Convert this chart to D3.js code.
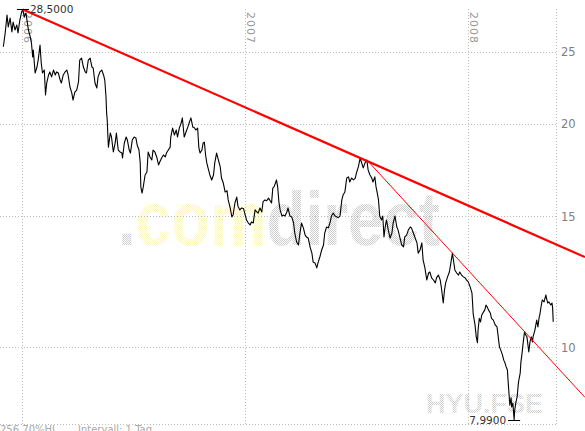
<!DOCTYPE html>
<html><head><meta charset="utf-8">
<script src="https://cdn.jsdelivr.net/npm/d3@7"></script>
<style>html,body{margin:0;padding:0;background:#fff;overflow:hidden}</style>
</head><body>
<svg id="c" width="585" height="431"></svg>
<script>
// ---- data ----
const startDate = "2006-01-01";           // day offsets are counted from this date
const dayOffsets = [-31,-28,-25,-23,-20,-17,-15,-12,-9,-7,-4,-1,1,3,6,10,13,15,17,18,21,24,26,29,31,33,36,38,40,43,45,48,51,54,56,59,62,64,67,70,73,75,78,81,83,86,89,92,94,97,100,103,105,108,111,114,116,119,122,124,127,130,133,135,137,138,139,140,141,144,146,149,152,154,157,160,163,164,167,170,172,175,177,180,183,186,188,191,193,194,196,198,201,204,206,209,212,214,217,220,223,225,228,231,234,236,239,242,243,246,249,252,254,257,260,262,265,268,271,273,276,279,282,284,287,289,291,294,296,298,300,302,304,307,310,313,315,318,321,324,326,329,332,335,337,340,343,345,348,351,353,356,359,362,364,367,370,373,375,378,381,384,386,389,392,394,397,400,403,405,408,410,412,415,416,418,420,422,425,427,430,433,435,438,441,444,446,449,452,454,457,460,463,465,468,471,474,476,479,482,484,487,490,493,495,498,501,504,506,509,512,515,517,520,523,525,528,531,534,536,539,542,545,547,550,553,555,558,561,564,566,569,572,574,577,579,581,583,585,588,590,592,594,596,599,602,605,607,610,613,615,617,621,624,626,629,632,635,637,640,643,646,648,651,654,656,659,662,665,667,670,673,676,678,681,684,686,689,691,693,696,699,701,704,708,711,714,716,719,722,725,727,730,733,736,737,738,741,743,745,746,748,750,752,755,757,759,761,763,766,768,771,774,777,779,781,783,786,788,790,792,794,795,797,798,800,801,803,805,806,808,810,812,815,816,818,820,822,824,826,827,829,831,833,835,836,839,842,844,846,847,849,851,854,857,858,860,862,865,867,868,869];
const prices = [25.39,26.49,28.01,26.99,27.75,26.58,27.41,26.74,27.16,26.49,27.58,28.30,28.50,27.84,28.18,26.74,26.17,25.68,24.59,25.13,23.40,23.84,24.36,25.52,24.14,23.40,23.62,21.86,22.69,23.26,23.48,23.12,23.62,23.26,23.48,23.40,22.90,22.69,23.26,23.48,23.62,23.26,22.41,22.00,21.52,22.06,22.20,22.76,24.36,24.51,23.84,23.48,23.40,24.36,24.51,23.84,23.77,22.69,22.34,23.12,23.48,23.62,23.26,22.90,21.72,20.68,20.23,19.31,18.60,19.43,19.19,18.32,18.84,19.43,18.43,18.32,18.26,17.98,18.84,19.19,19.01,18.43,18.26,19.01,19.19,19.13,18.72,18.43,17.71,16.44,16.13,16.44,17.06,17.22,18.32,18.04,17.87,18.43,18.32,18.04,17.60,17.76,17.98,18.15,18.04,18.26,18.43,18.60,19.19,19.73,19.31,19.61,19.19,19.73,20.04,20.36,19.19,19.49,19.80,20.04,20.36,19.80,19.73,19.61,19.73,18.55,18.26,18.43,18.84,18.89,18.15,17.71,17.44,17.06,16.80,17.06,17.71,18.26,17.87,17.49,16.90,16.64,16.18,16.25,15.79,15.44,14.98,15.07,15.64,15.93,15.49,15.31,15.40,15.38,15.16,14.84,14.70,14.61,14.75,14.70,15.31,15.21,15.16,15.40,15.21,15.69,15.79,15.75,15.88,15.79,15.64,16.38,16.44,16.69,16.80,16.44,15.69,15.31,15.02,15.07,15.02,15.21,15.40,15.02,14.98,14.70,14.25,13.86,13.73,14.16,14.70,14.48,14.16,14.08,14.03,13.65,13.39,13.03,12.99,12.79,12.99,13.23,13.52,13.73,14.25,14.52,14.48,14.75,15.02,15.16,15.02,14.98,14.95,15.02,15.79,16.03,16.18,16.90,16.96,16.69,16.90,16.80,16.90,17.17,17.49,17.98,17.76,17.44,17.71,17.87,17.33,17.06,16.90,16.69,16.96,16.44,16.13,15.79,15.02,14.84,15.02,14.08,14.52,14.84,14.39,14.03,14.25,14.70,15.02,14.52,14.39,14.16,13.74,13.65,14.08,14.16,14.39,14.52,14.48,14.25,14.03,13.82,13.39,13.52,13.82,13.11,12.79,12.32,12.59,12.63,12.40,12.32,12.21,12.40,12.51,12.32,12.02,11.47,11.94,12.21,12.44,12.63,12.91,13.39,12.71,12.59,12.51,12.63,12.51,12.44,12.40,12.32,12.25,12.06,11.83,11.47,11.09,10.72,10.33,10.14,10.55,10.94,10.82,11.05,11.16,11.23,11.40,11.33,11.23,11.12,10.94,10.88,10.72,10.65,10.33,10.01,9.92,9.76,9.61,9.53,9.41,9.32,9.04,8.58,8.36,8.55,8.31,8.41,7.99,8.23,8.44,8.58,8.96,9.24,9.53,9.82,10.17,10.49,10.39,10.33,10.17,9.86,10.17,10.33,10.17,10.33,10.55,10.88,10.65,10.98,11.05,11.33,11.58,11.51,11.76,11.65,11.47,11.51,11.40,11.47,11.30,10.82];
const yearTicks = ["2006", "2007", "2008"];
const priceTicks = [10, 15, 20, 25];
const trendMain = [{day: 1, price: 28.50}, {day: 553, price: 17.98}];
const trendShort = [{day: 564, price: 17.87}, {day: 704, price: 13.39}];
const footerInfo = "256,70%HL";
const footerInterval = "Intervall: 1 Tag";
const logoParts = [{text: ".", tone: "gray"}, {text: "com", tone: "yellow"}, {text: "direct", tone: "gray"}];
const symbolName = "HYU.FSE";

// ---- drawing ----
const W = 585, H = 431;
const plot = {left: 0, right: 556, top: 9, bottom: 424};
const svg = d3.select("#c");
const base = d3.isoParse(startDate);
const dates = dayOffsets.map(d => d3.utcDay.offset(base, d));
const series = dates.map((d, i) => ({date: d, price: prices[i]}));

const x = d3.scaleUtc()
  .domain([d3.isoParse("2006-01-01"), d3.isoParse("2008-01-01")])
  .range([22.3, 468.3]);
const y = d3.scaleLog().domain([10, 25]).range([347.3, 51.7]);

const defs = svg.append("defs");
function dotPattern(id, color) {
  const p = defs.append("pattern").attr("id", id).attr("width", 2).attr("height", 2)
    .attr("patternUnits", "userSpaceOnUse");
  p.append("rect").attr("x", 0).attr("y", 0).attr("width", 1).attr("height", 1).attr("fill", color);
  p.append("rect").attr("x", 1).attr("y", 1).attr("width", 1).attr("height", 1).attr("fill", color);
}
dotPattern("dotGray", "#cdcdcd");
dotPattern("dotYellow", "#fdf3c8");

// watermark logo
const logo = svg.append("text")
  .attr("x", 118).attr("y", 245)
  .attr("textLength", 322).attr("lengthAdjust", "spacingAndGlyphs")
  .style("font-family", "'Liberation Sans', Arial, sans-serif")
  .style("font-weight", "bold").style("font-size", "76px");
logo.selectAll("tspan").data(logoParts).join("tspan")
  .attr("fill", d => d.tone === "yellow" ? "url(#dotYellow)" : "url(#dotGray)")
  .text(d => d.text);

svg.append("text")
  .attr("x", 426).attr("y", 413)
  .attr("textLength", 117).attr("lengthAdjust", "spacingAndGlyphs")
  .attr("fill", "url(#dotGray)")
  .style("font-family", "'Liberation Sans', Arial, sans-serif")
  .style("font-weight", "bold").style("font-size", "28px")
  .text(symbolName);

// grid
const grid = svg.append("g").attr("stroke", "#bdbdbd").attr("stroke-width", 1)
  .attr("stroke-dasharray", "1,2").attr("fill", "none");
priceTicks.forEach(v => {
  const yy = Math.round(y(v)) + 0.5;
  grid.append("line").attr("x1", plot.left).attr("x2", plot.right).attr("y1", yy).attr("y2", yy);
});
yearTicks.forEach(t => {
  const xx = Math.round(x(d3.isoParse(t + "-01-01"))) + 0.5;
  grid.append("line").attr("x1", xx).attr("x2", xx).attr("y1", plot.top).attr("y2", plot.bottom);
});
grid.append("line").attr("x1", plot.right + 0.5).attr("x2", plot.right + 0.5).attr("y1", plot.top).attr("y2", plot.bottom);
grid.append("line").attr("x1", plot.left).attr("x2", plot.right).attr("y1", plot.bottom + 0.5).attr("y2", plot.bottom + 0.5);

// year labels
svg.append("g").selectAll("text").data(yearTicks).join("text")
  .attr("transform", t => `translate(${Math.round(x(d3.isoParse(t + "-01-01"))) + 2},12) rotate(90)`)
  .attr("fill", "#999")
  .style("font-family", "'DejaVu Sans', sans-serif").style("font-size", "11px")
  .style("letter-spacing", "1px")
  .text(t => t);

// right price labels
svg.append("g").selectAll("text").data(priceTicks).join("text")
  .attr("x", 561).attr("y", v => y(v) + 4.5)
  .attr("fill", "#808080")
  .style("font-family", "'DejaVu Sans', sans-serif").style("font-size", "11.5px")
  .text(v => v);

// footer
const foot = svg.append("g").attr("fill", "#a8a8a8")
  .style("font-family", "'DejaVu Sans', sans-serif").style("font-size", "10px");
foot.append("text").attr("x", 0).attr("y", 433).text(footerInfo);
foot.append("text").attr("x", 78).attr("y", 433).text(footerInterval);

// price line
const line = d3.line().x(d => x(d.date)).y(d => y(d.price));
svg.append("path").datum(series)
  .attr("fill", "none").attr("stroke", "#000").attr("stroke-width", 1.1)
  .attr("stroke-linejoin", "round")
  .attr("d", line);

// trend lines (extended to the right edge)
function trend(pts, width) {
  const x1 = x(d3.utcDay.offset(base, pts[0].day)), y1 = y(pts[0].price);
  const x2 = x(d3.utcDay.offset(base, pts[1].day)), y2 = y(pts[1].price);
  const k = (y2 - y1) / (x2 - x1);
  svg.append("line").attr("x1", x1).attr("y1", y1).attr("x2", W).attr("y2", y1 + (W - x1) * k)
    .attr("stroke", "#ff0000").attr("stroke-width", width);
}
trend(trendMain, 2.2);
trend(trendShort, 1);

// high / low markers
const fmt = v => d3.format(".4f")(v).replace(".", ",");
const hi = series.reduce((a, b) => b.price > a.price ? b : a);
const lo = series.reduce((a, b) => b.price < a.price ? b : a);
const mk = svg.append("g").style("font-family", "'DejaVu Sans', sans-serif").style("font-size", "10.5px");
[hi, lo].forEach((p, i) => {
  const px = x(p.date), py = Math.round(y(p.price)) + 0.5;
  mk.append("line").attr("x1", px - 6).attr("x2", px + 6).attr("y1", py).attr("y2", py)
    .attr("stroke", "#000").attr("stroke-width", 1);
  mk.append("text")
    .attr("x", i === 0 ? px + 7 : px - 8).attr("y", py + 3.8)
    .attr("text-anchor", i === 0 ? "start" : "end")
    .attr("fill", "#333").text(fmt(p.price));
});
</script>
</body></html>
